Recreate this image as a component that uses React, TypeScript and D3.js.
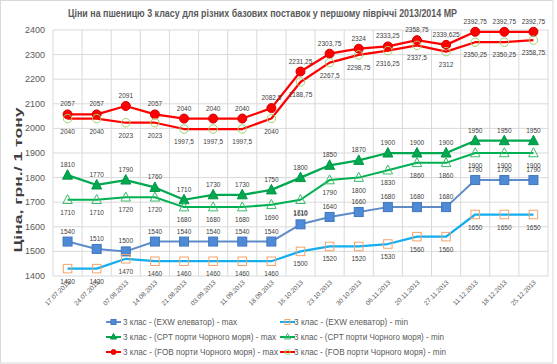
import React from "react";
import * as d3 from "d3";

const dates = ["17.07.2013","24.07.2013","07.08.2013","14.08.2013","21.08.2013","03.09.2013","11.09.2013","18.09.2013","16.10.2013","23.10.2013","30.10.2013","06.11.2013","20.11.2013","27.11.2013","11.12.2013","18.12.2013","25.12.2013"];
const exwMax = [1540,1510,1500,1540,1540,1540,1540,1540,1610,1640,1660,1680,1680,1680,1790,1790,1790];
const exwMin = [1430,1430,1470,1460,1460,1460,1460,1460,1500,1520,1520,1530,1560,1560,1650,1650,1650];
const cptMax = [1810,1770,1790,1760,1710,1730,1730,1750,1800,1850,1870,1900,1900,1900,1950,1950,1950];
const cptMin = [1710,1710,1720,1720,1680,1680,1680,1690,1710,1790,1800,1830,1860,1860,1900,1900,1900];
const fobMax = [2057,2057,2091,2057,2040,2040,2040,2082.5,2231.25,2303.75,2324,2333.25,2358.75,2339.625,2392.75,2392.75,2392.75];
const fobMin = [2040,2040,2023,2023,1997.5,1997.5,1997.5,2040,2188.75,2267.5,2298.75,2316.25,2337.5,2312,2350.25,2350.25,2358.75];
const yTicks = [1400,1500,1600,1700,1800,1900,2000,2100,2200,2300,2400];
const seriesNames = [
  "3 клас - (EXW елеватор) - max",
  "3 клас - (EXW елеватор) - min",
  "3 клас - (CPT порти Чорного моря) - max",
  "3 клас - (CPT порти Чорного моря) - min",
  "3 клас - (FOB порти Чорного моря) - max",
  "3 клас - (FOB порти Чорного моря) - min",
];
const title = "Ціни на пшеницю 3 класу для різних базових поставок у першому півріччі 2013/2014 МР";
const yTitle = "Ціна, грн./ 1 тону";

type Shape = "square" | "triangle" | "circle";
interface S { name: string; values: number[]; line: string; shape: Shape; fill: string; stroke: string; above: boolean; lw: number; }

const series: S[] = [
  { name: seriesNames[0], values: exwMax, line: "#5f8bc9", shape: "square", fill: "#4f8ad6", stroke: "#4276bd", above: true, lw: 2 },
  { name: seriesNames[1], values: exwMin, line: "#12aef0", shape: "square", fill: "none", stroke: "#f3a36a", above: false, lw: 2.25 },
  { name: seriesNames[2], values: cptMax, line: "#00a84f", shape: "triangle", fill: "#00a84f", stroke: "#009444", above: true, lw: 2.25 },
  { name: seriesNames[3], values: cptMin, line: "#00b050", shape: "triangle", fill: "none", stroke: "#3cba6a", above: false, lw: 2 },
  { name: seriesNames[4], values: fobMax, line: "#ff0000", shape: "circle", fill: "#ff0000", stroke: "#d00000", above: true, lw: 2.25 },
  { name: seriesNames[5], values: fobMin, line: "#ff0000", shape: "circle", fill: "none", stroke: "#9fd26a", above: false, lw: 2.25 },
];

function Marker({ shape, x, y, size, fill, stroke }: { shape: Shape; x: number; y: number; size: number; fill: string; stroke: string }) {
  const h = size / 2;
  if (shape === "square") return <rect x={x - h} y={y - h} width={size} height={size} fill={fill} stroke={stroke} strokeWidth={1} />;
  if (shape === "circle") return <circle cx={x} cy={y} r={h} fill={fill} stroke={stroke} strokeWidth={1} />;
  return <path d={`M${x},${y - h - 1}L${x + h + 0.5},${y + h - 0.5}L${x - h - 0.5},${y + h - 0.5}Z`} fill={fill} stroke={stroke} strokeWidth={1} />;
}

const fmt = (v: number) => String(v).replace(".", ",");

export default function App() {
  const W = 557, H = 364;
  const left = 53, right = 548, top = 30, bottom = 276;
  const x = d3.scaleBand<string>().domain(dates).range([left, right]).padding(0);
  const bw = x.bandwidth();
  const cx = (i: number) => (x(dates[i]) as number) + bw / 2;
  const y = d3.scaleLinear().domain([1400, 2400]).range([bottom, top]);
  const line = d3.line<number>().x((_, i) => cx(i)).y((v) => y(v));
  const font = "'Liberation Sans', Arial, sans-serif";
  const legendCols = [106, 280];
  const legendTextX = [123, 294];
  const legendRows = [322, 337, 352];
  const legendLens = [114, 114, 153, 150, 155, 152];

  return (
    <svg width={W} height={H} style={{ position: "absolute", left: 0, top: 0 }} fontFamily={font}>
      <rect x={0} y={0} width={W} height={H} fill="#fff" />
      <rect x={0.5} y={0.5} width={552.5} height={362.5} fill="none" stroke="#d9d9d9" />
      <text x={68} y={17} fontSize={11} fontWeight="bold" fill="#595959" textLength={389} lengthAdjust="spacingAndGlyphs">{title}</text>
      {yTicks.map((t) => (
        <line key={"h" + t} x1={left} x2={right} y1={y(t)} y2={y(t)} stroke="#d9d9d9" strokeWidth={1} />
      ))}
      {d3.range(dates.length + 1).map((i) => (
        <line key={"v" + i} x1={left + i * bw} x2={left + i * bw} y1={top} y2={bottom} stroke="#d9d9d9" strokeWidth={1} />
      ))}
      {yTicks.map((t) => (
        <text key={"yt" + t} x={45} y={y(t) + 3} textAnchor="end" fontSize={9} fill="#595959">{t}</text>
      ))}
      <text transform={`translate(22,180) rotate(-90)`} textAnchor="middle" fontSize={11.5} fontWeight="bold" fill="#404040" textLength={145} lengthAdjust="spacingAndGlyphs">{yTitle}</text>
      {dates.map((d, i) => (
        <text key={"xt" + d} transform={`translate(${cx(i) + 3},${283}) rotate(-45)`} textAnchor="end" fontSize={6.5} fill="#595959">{d}</text>
      ))}
      {series.map((s, si) => (
        <g key={"s" + si}>
          <path d={line(s.values) || ""} fill="none" stroke={s.line} strokeWidth={s.lw} strokeLinejoin="round" />
          {s.values.map((v, i) => (
            <Marker key={i} shape={s.shape} x={cx(i)} y={y(v)} size={s.fill === "none" ? 8.5 : 9} fill={s.fill} stroke={s.stroke} />
          ))}
        </g>
      ))}
      {series.map((s, si) => (
        <g key={"l" + si}>
          {s.values.map((v, i) => (
            <text key={i} x={cx(i)} y={y(v) + (s.above ? -8 : 15)} textAnchor="middle" fontSize={6.5} fill="#404040">{fmt(v)}</text>
          ))}
        </g>
      ))}
      {series.map((s, si) => {
        const col = si % 2, row = Math.floor(si / 2);
        const lx = legendCols[col], ly = legendRows[row];
        return (
          <g key={"lg" + si}>
            <line x1={lx} x2={lx + 15} y1={ly} y2={ly} stroke={s.line} strokeWidth={2} />
            <Marker shape={s.shape} x={lx + 7.5} y={ly} size={5} fill={s.fill} stroke={s.stroke} />
            <text x={legendTextX[col]} y={ly + 3} fontSize={8.5} fill="#595959" textLength={legendLens[si]} lengthAdjust="spacingAndGlyphs">{s.name}</text>
          </g>
        );
      })}
    </svg>
  );
}
